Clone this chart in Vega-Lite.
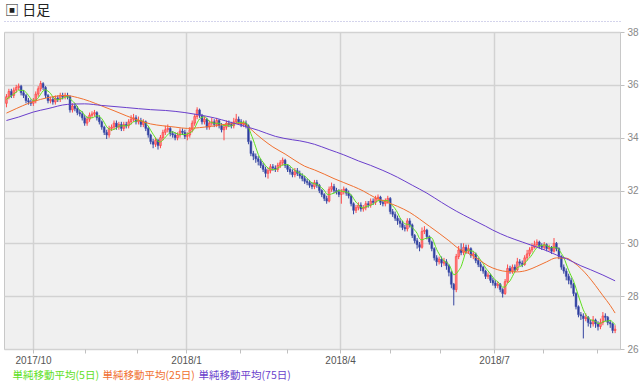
{
"$schema":"https://vega.github.io/schema/vega-lite/v6.json",
"width":616,"height":317,
"autosize":{"type":"none"},
"padding":{"left":4,"top":32,"right":20,"bottom":35},
"background":"white",
"title":{"text":"▣ 日足","anchor":"start","frame":"group","offset":3,"dx":1,"fontSize":14,"font":"Noto Sans CJK JP","fontWeight":"normal","color":"#222222"},
"config":{"view":{"fill":"#f0f0f0","stroke":"#c8c8c8","strokeWidth":1}},
"datasets":{
"candles":[
{"i":1,"o":35.30,"h":35.65,"l":35.15,"c":35.55},{"i":2,"o":35.55,"h":35.85,"l":35.45,"c":35.75},{"i":3,"o":35.75,"h":35.85,"l":35.50,"c":35.60},{"i":4,"o":35.60,"h":35.90,"l":35.50,"c":35.80},{"i":5,"o":35.80,"h":36.00,"l":35.70,"c":35.90},
{"i":6,"o":35.90,"h":36.05,"l":35.80,"c":35.95},{"i":7,"o":35.95,"h":36.00,"l":35.60,"c":35.70},{"i":8,"o":35.70,"h":35.80,"l":35.50,"c":35.60},{"i":9,"o":35.60,"h":35.65,"l":35.30,"c":35.40},{"i":10,"o":35.40,"h":35.50,"l":35.25,"c":35.35},
{"i":11,"o":35.35,"h":35.45,"l":35.20,"c":35.30},{"i":12,"o":35.30,"h":35.50,"l":35.20,"c":35.40},{"i":13,"o":35.40,"h":35.75,"l":35.30,"c":35.65},{"i":14,"o":35.65,"h":35.95,"l":35.55,"c":35.85},{"i":15,"o":35.85,"h":36.15,"l":35.75,"c":36.05},
{"i":16,"o":36.05,"h":36.10,"l":35.80,"c":35.90},{"i":17,"o":35.90,"h":35.95,"l":35.50,"c":35.60},{"i":18,"o":35.60,"h":35.65,"l":35.30,"c":35.40},{"i":19,"o":35.40,"h":35.55,"l":35.30,"c":35.45},{"i":20,"o":35.45,"h":35.55,"l":35.25,"c":35.35},
{"i":21,"o":35.35,"h":35.60,"l":35.25,"c":35.50},{"i":22,"o":35.50,"h":35.60,"l":35.35,"c":35.45},{"i":23,"o":35.45,"h":35.70,"l":35.35,"c":35.60},{"i":24,"o":35.60,"h":35.70,"l":35.45,"c":35.55},{"i":25,"o":35.55,"h":35.70,"l":35.45,"c":35.60},
{"i":26,"o":35.60,"h":35.70,"l":35.45,"c":35.55},{"i":27,"o":35.55,"h":35.60,"l":34.95,"c":35.05},{"i":28,"o":35.05,"h":35.30,"l":34.95,"c":35.20},{"i":29,"o":35.20,"h":35.30,"l":35.00,"c":35.10},{"i":30,"o":35.10,"h":35.20,"l":34.85,"c":34.95},
{"i":31,"o":34.95,"h":35.05,"l":34.80,"c":34.90},{"i":32,"o":34.90,"h":35.00,"l":34.65,"c":34.75},{"i":33,"o":34.75,"h":34.85,"l":34.45,"c":34.55},{"i":34,"o":34.55,"h":34.80,"l":34.45,"c":34.70},{"i":35,"o":34.70,"h":34.95,"l":34.60,"c":34.85},
{"i":36,"o":34.85,"h":35.00,"l":34.75,"c":34.90},{"i":37,"o":34.90,"h":35.05,"l":34.80,"c":34.95},{"i":38,"o":34.95,"h":35.00,"l":34.65,"c":34.75},{"i":39,"o":34.75,"h":34.85,"l":34.50,"c":34.60},{"i":40,"o":34.60,"h":34.65,"l":34.30,"c":34.40},
{"i":41,"o":34.40,"h":34.45,"l":34.10,"c":34.20},{"i":42,"o":34.20,"h":34.30,"l":33.95,"c":34.10},{"i":43,"o":34.10,"h":34.45,"l":34.00,"c":34.35},{"i":44,"o":34.35,"h":34.50,"l":34.25,"c":34.40},{"i":45,"o":34.40,"h":34.65,"l":34.30,"c":34.55},
{"i":46,"o":34.55,"h":34.65,"l":34.30,"c":34.40},{"i":47,"o":34.40,"h":34.60,"l":34.30,"c":34.50},{"i":48,"o":34.50,"h":34.60,"l":34.25,"c":34.35},{"i":49,"o":34.35,"h":34.60,"l":34.25,"c":34.50},{"i":50,"o":34.50,"h":34.60,"l":34.35,"c":34.45},
{"i":51,"o":34.45,"h":34.70,"l":34.35,"c":34.60},{"i":52,"o":34.60,"h":34.85,"l":34.50,"c":34.70},{"i":53,"o":34.70,"h":34.90,"l":34.60,"c":34.75},{"i":54,"o":34.75,"h":34.85,"l":34.50,"c":34.60},{"i":55,"o":34.60,"h":34.80,"l":34.50,"c":34.65},
{"i":56,"o":34.65,"h":34.75,"l":34.40,"c":34.50},{"i":57,"o":34.50,"h":34.70,"l":34.40,"c":34.60},{"i":58,"o":34.60,"h":34.65,"l":34.25,"c":34.35},{"i":59,"o":34.35,"h":34.40,"l":34.00,"c":34.10},{"i":60,"o":34.10,"h":34.15,"l":33.75,"c":33.85},
{"i":61,"o":33.85,"h":33.95,"l":33.60,"c":33.75},{"i":62,"o":33.75,"h":34.00,"l":33.65,"c":33.90},{"i":63,"o":33.90,"h":33.95,"l":33.55,"c":33.70},{"i":64,"o":33.70,"h":34.10,"l":33.60,"c":34.00},{"i":65,"o":34.00,"h":34.30,"l":33.90,"c":34.20},
{"i":66,"o":34.20,"h":34.45,"l":34.10,"c":34.30},{"i":67,"o":34.30,"h":34.50,"l":34.20,"c":34.35},{"i":68,"o":34.35,"h":34.40,"l":34.05,"c":34.15},{"i":69,"o":34.15,"h":34.25,"l":34.00,"c":34.10},{"i":70,"o":34.10,"h":34.20,"l":33.90,"c":34.00},
{"i":71,"o":34.00,"h":34.20,"l":33.90,"c":34.10},{"i":72,"o":34.10,"h":34.35,"l":34.00,"c":34.25},{"i":73,"o":34.25,"h":34.35,"l":34.10,"c":34.20},{"i":74,"o":34.20,"h":34.30,"l":33.95,"c":34.05},{"i":75,"o":34.05,"h":34.20,"l":33.90,"c":34.10},
{"i":76,"o":34.10,"h":34.40,"l":34.00,"c":34.30},{"i":77,"o":34.30,"h":34.65,"l":34.20,"c":34.55},{"i":78,"o":34.55,"h":34.90,"l":34.45,"c":34.80},{"i":79,"o":34.80,"h":35.15,"l":34.70,"c":35.05},{"i":80,"o":35.05,"h":35.10,"l":34.75,"c":34.85},
{"i":81,"o":34.85,"h":34.90,"l":34.50,"c":34.60},{"i":82,"o":34.60,"h":34.80,"l":34.50,"c":34.70},{"i":83,"o":34.70,"h":34.75,"l":34.30,"c":34.40},{"i":84,"o":34.40,"h":34.65,"l":34.30,"c":34.55},{"i":85,"o":34.55,"h":34.75,"l":34.45,"c":34.60},
{"i":86,"o":34.60,"h":34.70,"l":34.40,"c":34.50},{"i":87,"o":34.50,"h":34.75,"l":34.40,"c":34.65},{"i":88,"o":34.65,"h":34.70,"l":34.35,"c":34.45},{"i":89,"o":34.45,"h":34.55,"l":34.20,"c":34.30},{"i":90,"o":34.30,"h":34.50,"l":33.90,"c":34.40},
{"i":91,"o":34.40,"h":34.65,"l":34.30,"c":34.55},{"i":92,"o":34.55,"h":34.65,"l":34.40,"c":34.50},{"i":93,"o":34.50,"h":34.60,"l":34.35,"c":34.45},{"i":94,"o":34.45,"h":34.75,"l":34.35,"c":34.60},{"i":95,"o":34.60,"h":34.90,"l":34.55,"c":34.70},
{"i":96,"o":34.70,"h":34.80,"l":34.50,"c":34.60},{"i":97,"o":34.60,"h":34.70,"l":34.40,"c":34.50},{"i":98,"o":34.50,"h":34.65,"l":34.40,"c":34.55},{"i":99,"o":34.55,"h":34.65,"l":34.35,"c":34.45},{"i":100,"o":34.45,"h":34.50,"l":33.75,"c":33.85},
{"i":101,"o":33.85,"h":33.90,"l":33.30,"c":33.40},{"i":102,"o":33.40,"h":33.50,"l":33.15,"c":33.30},{"i":103,"o":33.30,"h":33.40,"l":33.05,"c":33.20},{"i":104,"o":33.20,"h":33.30,"l":32.95,"c":33.10},{"i":105,"o":33.10,"h":33.20,"l":32.85,"c":32.95},
{"i":106,"o":32.95,"h":33.05,"l":32.70,"c":32.80},{"i":107,"o":32.80,"h":32.90,"l":32.50,"c":32.65},{"i":108,"o":32.65,"h":32.85,"l":32.45,"c":32.75},{"i":109,"o":32.75,"h":33.00,"l":32.65,"c":32.90},{"i":110,"o":32.90,"h":33.00,"l":32.75,"c":32.85},
{"i":111,"o":32.85,"h":32.95,"l":32.70,"c":32.80},{"i":112,"o":32.80,"h":33.05,"l":32.70,"c":32.95},{"i":113,"o":32.95,"h":33.15,"l":32.85,"c":33.05},{"i":114,"o":33.05,"h":33.25,"l":32.95,"c":33.15},{"i":115,"o":33.15,"h":33.20,"l":32.85,"c":32.95},
{"i":116,"o":32.95,"h":33.00,"l":32.70,"c":32.80},{"i":117,"o":32.80,"h":32.90,"l":32.60,"c":32.70},{"i":118,"o":32.70,"h":32.80,"l":32.50,"c":32.60},{"i":119,"o":32.60,"h":32.85,"l":32.50,"c":32.75},{"i":120,"o":32.75,"h":32.85,"l":32.55,"c":32.65},
{"i":121,"o":32.65,"h":32.75,"l":32.45,"c":32.55},{"i":122,"o":32.55,"h":32.65,"l":32.35,"c":32.45},{"i":123,"o":32.45,"h":32.55,"l":32.25,"c":32.35},{"i":124,"o":32.35,"h":32.45,"l":32.20,"c":32.30},{"i":125,"o":32.30,"h":32.40,"l":32.10,"c":32.20},
{"i":126,"o":32.20,"h":32.30,"l":32.05,"c":32.15},{"i":127,"o":32.15,"h":32.40,"l":32.05,"c":32.30},{"i":128,"o":32.30,"h":32.40,"l":32.10,"c":32.20},{"i":129,"o":32.20,"h":32.25,"l":31.90,"c":32.00},{"i":130,"o":32.00,"h":32.05,"l":31.75,"c":31.85},
{"i":131,"o":31.85,"h":31.90,"l":31.60,"c":31.70},{"i":132,"o":31.70,"h":31.80,"l":31.50,"c":31.60},{"i":133,"o":31.60,"h":32.15,"l":31.55,"c":32.05},{"i":134,"o":32.05,"h":32.30,"l":31.95,"c":32.15},{"i":135,"o":32.15,"h":32.25,"l":31.90,"c":32.00},
{"i":136,"o":32.00,"h":32.10,"l":31.85,"c":31.95},{"i":137,"o":31.95,"h":32.05,"l":31.75,"c":31.85},{"i":138,"o":31.85,"h":32.05,"l":31.50,"c":31.95},{"i":139,"o":31.95,"h":32.15,"l":31.85,"c":32.05},{"i":140,"o":32.05,"h":32.10,"l":31.80,"c":31.90},
{"i":141,"o":31.90,"h":32.00,"l":31.70,"c":31.80},{"i":142,"o":31.80,"h":31.85,"l":31.40,"c":31.50},{"i":143,"o":31.50,"h":31.55,"l":31.10,"c":31.25},{"i":144,"o":31.25,"h":31.45,"l":31.15,"c":31.35},{"i":145,"o":31.35,"h":31.55,"l":31.25,"c":31.45},
{"i":146,"o":31.45,"h":31.55,"l":31.20,"c":31.30},{"i":147,"o":31.30,"h":31.45,"l":31.20,"c":31.35},{"i":148,"o":31.35,"h":31.60,"l":31.25,"c":31.50},{"i":149,"o":31.50,"h":31.60,"l":31.35,"c":31.45},{"i":150,"o":31.45,"h":31.70,"l":31.35,"c":31.60},
{"i":151,"o":31.60,"h":31.70,"l":31.45,"c":31.55},{"i":152,"o":31.55,"h":31.80,"l":31.45,"c":31.70},{"i":153,"o":31.70,"h":31.85,"l":31.60,"c":31.75},{"i":154,"o":31.75,"h":31.80,"l":31.45,"c":31.55},{"i":155,"o":31.55,"h":31.65,"l":31.40,"c":31.50},
{"i":156,"o":31.50,"h":31.70,"l":31.40,"c":31.60},{"i":157,"o":31.60,"h":31.80,"l":31.50,"c":31.70},{"i":158,"o":31.70,"h":31.75,"l":31.10,"c":31.20},{"i":159,"o":31.20,"h":31.30,"l":31.00,"c":31.10},{"i":160,"o":31.10,"h":31.20,"l":30.85,"c":30.95},
{"i":161,"o":30.95,"h":31.05,"l":30.70,"c":30.85},{"i":162,"o":30.85,"h":30.95,"l":30.60,"c":30.75},{"i":163,"o":30.75,"h":30.85,"l":30.50,"c":30.60},{"i":164,"o":30.60,"h":30.70,"l":30.45,"c":30.55},{"i":165,"o":30.55,"h":30.95,"l":30.45,"c":30.85},
{"i":166,"o":30.85,"h":30.95,"l":30.60,"c":30.70},{"i":167,"o":30.70,"h":30.75,"l":30.20,"c":30.30},{"i":168,"o":30.30,"h":30.35,"l":30.00,"c":30.10},{"i":169,"o":30.10,"h":30.20,"l":29.80,"c":29.95},{"i":170,"o":29.95,"h":30.05,"l":29.70,"c":29.85},
{"i":171,"o":29.85,"h":30.60,"l":29.80,"c":30.45},{"i":172,"o":30.45,"h":30.65,"l":30.35,"c":30.50},{"i":173,"o":30.50,"h":30.55,"l":30.15,"c":30.25},{"i":174,"o":30.25,"h":30.30,"l":29.95,"c":30.05},{"i":175,"o":30.05,"h":30.10,"l":29.70,"c":29.80},
{"i":176,"o":29.80,"h":29.85,"l":29.35,"c":29.45},{"i":177,"o":29.45,"h":29.55,"l":29.15,"c":29.30},{"i":178,"o":29.30,"h":29.50,"l":29.20,"c":29.40},{"i":179,"o":29.40,"h":29.50,"l":29.10,"c":29.25},{"i":180,"o":29.25,"h":29.45,"l":29.15,"c":29.30},
{"i":181,"o":29.30,"h":29.40,"l":29.00,"c":29.15},{"i":182,"o":29.15,"h":29.20,"l":28.75,"c":28.90},{"i":183,"o":28.90,"h":28.95,"l":28.30,"c":28.45},{"i":184,"o":28.45,"h":28.50,"l":27.65,"c":28.25},{"i":185,"o":28.25,"h":29.60,"l":28.15,"c":29.50},
{"i":186,"o":29.50,"h":29.90,"l":29.40,"c":29.75},{"i":187,"o":29.75,"h":30.00,"l":29.55,"c":29.65},{"i":188,"o":29.65,"h":30.00,"l":29.55,"c":29.85},{"i":189,"o":29.85,"h":29.95,"l":29.60,"c":29.70},{"i":190,"o":29.70,"h":29.95,"l":29.60,"c":29.80},
{"i":191,"o":29.80,"h":29.85,"l":29.45,"c":29.55},{"i":192,"o":29.55,"h":29.70,"l":29.40,"c":29.60},{"i":193,"o":29.60,"h":29.65,"l":29.25,"c":29.35},{"i":194,"o":29.35,"h":29.45,"l":29.10,"c":29.20},{"i":195,"o":29.20,"h":29.30,"l":28.95,"c":29.10},
{"i":196,"o":29.10,"h":29.15,"l":28.85,"c":28.95},{"i":197,"o":28.95,"h":29.00,"l":28.65,"c":28.75},{"i":198,"o":28.75,"h":28.90,"l":28.65,"c":28.80},{"i":199,"o":28.80,"h":28.85,"l":28.50,"c":28.60},{"i":200,"o":28.60,"h":28.70,"l":28.40,"c":28.50},
{"i":201,"o":28.50,"h":28.60,"l":28.30,"c":28.40},{"i":202,"o":28.40,"h":28.55,"l":28.30,"c":28.45},{"i":203,"o":28.45,"h":28.50,"l":28.15,"c":28.25},{"i":204,"o":28.25,"h":28.30,"l":27.95,"c":28.10},{"i":205,"o":28.10,"h":28.65,"l":28.05,"c":28.55},
{"i":206,"o":28.55,"h":29.20,"l":28.50,"c":29.05},{"i":207,"o":29.05,"h":29.15,"l":28.85,"c":28.95},{"i":208,"o":28.95,"h":29.20,"l":28.85,"c":29.10},{"i":209,"o":29.10,"h":29.20,"l":28.90,"c":29.00},{"i":210,"o":29.00,"h":29.45,"l":28.95,"c":29.30},
{"i":211,"o":29.30,"h":29.40,"l":29.15,"c":29.25},{"i":212,"o":29.25,"h":29.35,"l":29.10,"c":29.20},{"i":213,"o":29.20,"h":29.55,"l":29.15,"c":29.45},{"i":214,"o":29.45,"h":29.75,"l":29.35,"c":29.60},{"i":215,"o":29.60,"h":29.85,"l":29.50,"c":29.75},
{"i":216,"o":29.75,"h":30.00,"l":29.65,"c":29.85},{"i":217,"o":29.85,"h":30.10,"l":29.80,"c":29.95},{"i":218,"o":29.95,"h":30.15,"l":29.85,"c":30.05},{"i":219,"o":30.05,"h":30.10,"l":29.80,"c":29.90},{"i":220,"o":29.90,"h":30.00,"l":29.75,"c":29.85},
{"i":221,"o":29.85,"h":30.05,"l":29.75,"c":29.95},{"i":222,"o":29.95,"h":30.00,"l":29.70,"c":29.80},{"i":223,"o":29.80,"h":29.95,"l":29.70,"c":29.85},{"i":224,"o":29.85,"h":29.90,"l":29.60,"c":29.70},{"i":225,"o":29.70,"h":30.20,"l":29.65,"c":30.00},
{"i":226,"o":30.00,"h":30.05,"l":29.70,"c":29.80},{"i":227,"o":29.80,"h":29.85,"l":29.40,"c":29.50},{"i":228,"o":29.50,"h":29.55,"l":29.00,"c":29.10},{"i":229,"o":29.10,"h":29.20,"l":28.85,"c":28.95},{"i":230,"o":28.95,"h":29.05,"l":28.60,"c":28.75},
{"i":231,"o":28.75,"h":28.85,"l":28.45,"c":28.60},{"i":232,"o":28.60,"h":28.70,"l":28.30,"c":28.45},{"i":233,"o":28.45,"h":28.50,"l":28.00,"c":28.10},{"i":234,"o":28.10,"h":28.15,"l":27.50,"c":27.60},{"i":235,"o":27.60,"h":27.65,"l":27.20,"c":27.30},
{"i":236,"o":27.30,"h":27.40,"l":27.10,"c":27.25},{"i":237,"o":27.25,"h":27.35,"l":26.40,"c":27.15},{"i":238,"o":27.15,"h":27.35,"l":27.05,"c":27.20},{"i":239,"o":27.20,"h":27.25,"l":26.85,"c":27.00},{"i":240,"o":27.00,"h":27.10,"l":26.80,"c":26.95},
{"i":241,"o":26.95,"h":27.25,"l":26.85,"c":27.10},{"i":242,"o":27.10,"h":27.15,"l":26.80,"c":26.95},{"i":243,"o":26.95,"h":27.05,"l":26.70,"c":26.85},{"i":244,"o":26.85,"h":27.15,"l":26.75,"c":27.00},{"i":245,"o":27.00,"h":27.40,"l":26.90,"c":27.25},
{"i":246,"o":27.25,"h":27.35,"l":27.05,"c":27.20},{"i":247,"o":27.20,"h":27.25,"l":26.90,"c":27.00},{"i":248,"o":27.00,"h":27.10,"l":26.80,"c":26.95},{"i":249,"o":26.95,"h":27.00,"l":26.60,"c":26.70},{"i":250,"o":26.70,"h":26.90,"l":26.60,"c":26.75}
],
"ma":[
{"i":1,"s":"5日","v":35.45},{"i":2,"s":"5日","v":35.52},{"i":3,"s":"5日","v":35.58},{"i":4,"s":"5日","v":35.66},{"i":5,"s":"5日","v":35.72},{"i":6,"s":"5日","v":35.80},{"i":7,"s":"5日","v":35.79},{"i":8,"s":"5日","v":35.79},{"i":9,"s":"5日","v":35.71},{"i":10,"s":"5日","v":35.60},
{"i":11,"s":"5日","v":35.47},{"i":12,"s":"5日","v":35.41},{"i":13,"s":"5日","v":35.42},{"i":14,"s":"5日","v":35.51},{"i":15,"s":"5日","v":35.65},{"i":16,"s":"5日","v":35.77},{"i":17,"s":"5日","v":35.81},{"i":18,"s":"5日","v":35.76},{"i":19,"s":"5日","v":35.68},{"i":20,"s":"5日","v":35.54},
{"i":21,"s":"5日","v":35.46},{"i":22,"s":"5日","v":35.43},{"i":23,"s":"5日","v":35.47},{"i":24,"s":"5日","v":35.49},{"i":25,"s":"5日","v":35.54},{"i":26,"s":"5日","v":35.55},{"i":27,"s":"5日","v":35.47},{"i":28,"s":"5日","v":35.39},{"i":29,"s":"5日","v":35.30},{"i":30,"s":"5日","v":35.17},
{"i":31,"s":"5日","v":35.04},{"i":32,"s":"5日","v":34.98},{"i":33,"s":"5日","v":34.85},{"i":34,"s":"5日","v":34.77},{"i":35,"s":"5日","v":34.75},{"i":36,"s":"5日","v":34.75},{"i":37,"s":"5日","v":34.79},{"i":38,"s":"5日","v":34.83},{"i":39,"s":"5日","v":34.81},{"i":40,"s":"5日","v":34.72},
{"i":41,"s":"5日","v":34.58},{"i":42,"s":"5日","v":34.41},{"i":43,"s":"5日","v":34.33},{"i":44,"s":"5日","v":34.29},{"i":45,"s":"5日","v":34.32},{"i":46,"s":"5日","v":34.36},{"i":47,"s":"5日","v":34.44},{"i":48,"s":"5日","v":34.44},{"i":49,"s":"5日","v":34.46},{"i":50,"s":"5日","v":34.44},
{"i":51,"s":"5日","v":34.48},{"i":52,"s":"5日","v":34.52},{"i":53,"s":"5日","v":34.60},{"i":54,"s":"5日","v":34.62},{"i":55,"s":"5日","v":34.66},{"i":56,"s":"5日","v":34.64},{"i":57,"s":"5日","v":34.62},{"i":58,"s":"5日","v":34.54},{"i":59,"s":"5日","v":34.44},{"i":60,"s":"5日","v":34.28},
{"i":61,"s":"5日","v":34.13},{"i":62,"s":"5日","v":33.99},{"i":63,"s":"5日","v":33.86},{"i":64,"s":"5日","v":33.84},{"i":65,"s":"5日","v":33.91},{"i":66,"s":"5日","v":34.02},{"i":67,"s":"5日","v":34.11},{"i":68,"s":"5日","v":34.20},{"i":69,"s":"5日","v":34.22},{"i":70,"s":"5日","v":34.18},
{"i":71,"s":"5日","v":34.14},{"i":72,"s":"5日","v":34.12},{"i":73,"s":"5日","v":34.13},{"i":74,"s":"5日","v":34.12},{"i":75,"s":"5日","v":34.14},{"i":76,"s":"5日","v":34.18},{"i":77,"s":"5日","v":34.24},{"i":78,"s":"5日","v":34.36},{"i":79,"s":"5日","v":34.56},{"i":80,"s":"5日","v":34.71},
{"i":81,"s":"5日","v":34.77},{"i":82,"s":"5日","v":34.80},{"i":83,"s":"5日","v":34.72},{"i":84,"s":"5日","v":34.62},{"i":85,"s":"5日","v":34.57},{"i":86,"s":"5日","v":34.55},{"i":87,"s":"5日","v":34.54},{"i":88,"s":"5日","v":34.55},{"i":89,"s":"5日","v":34.50},{"i":90,"s":"5日","v":34.46},
{"i":91,"s":"5日","v":34.47},{"i":92,"s":"5日","v":34.44},{"i":93,"s":"5日","v":34.44},{"i":94,"s":"5日","v":34.50},{"i":95,"s":"5日","v":34.56},{"i":96,"s":"5日","v":34.57},{"i":97,"s":"5日","v":34.57},{"i":98,"s":"5日","v":34.59},{"i":99,"s":"5日","v":34.56},{"i":100,"s":"5日","v":34.39},
{"i":101,"s":"5日","v":34.15},{"i":102,"s":"5日","v":33.91},{"i":103,"s":"5日","v":33.64},{"i":104,"s":"5日","v":33.37},{"i":105,"s":"5日","v":33.19},{"i":106,"s":"5日","v":33.07},{"i":107,"s":"5日","v":32.94},{"i":108,"s":"5日","v":32.85},{"i":109,"s":"5日","v":32.81},{"i":110,"s":"5日","v":32.79},
{"i":111,"s":"5日","v":32.79},{"i":112,"s":"5日","v":32.85},{"i":113,"s":"5日","v":32.91},{"i":114,"s":"5日","v":32.96},{"i":115,"s":"5日","v":32.98},{"i":116,"s":"5日","v":32.98},{"i":117,"s":"5日","v":32.93},{"i":118,"s":"5日","v":32.84},{"i":119,"s":"5日","v":32.76},{"i":120,"s":"5日","v":32.70},
{"i":121,"s":"5日","v":32.65},{"i":122,"s":"5日","v":32.60},{"i":123,"s":"5日","v":32.55},{"i":124,"s":"5日","v":32.46},{"i":125,"s":"5日","v":32.37},{"i":126,"s":"5日","v":32.29},{"i":127,"s":"5日","v":32.26},{"i":128,"s":"5日","v":32.23},{"i":129,"s":"5日","v":32.17},{"i":130,"s":"5日","v":32.10},
{"i":131,"s":"5日","v":32.01},{"i":132,"s":"5日","v":31.87},{"i":133,"s":"5日","v":31.84},{"i":134,"s":"5日","v":31.87},{"i":135,"s":"5日","v":31.90},{"i":136,"s":"5日","v":31.95},{"i":137,"s":"5日","v":32.00},{"i":138,"s":"5日","v":31.98},{"i":139,"s":"5日","v":31.96},{"i":140,"s":"5日","v":31.94},
{"i":141,"s":"5日","v":31.91},{"i":142,"s":"5日","v":31.84},{"i":143,"s":"5日","v":31.70},{"i":144,"s":"5日","v":31.56},{"i":145,"s":"5日","v":31.47},{"i":146,"s":"5日","v":31.37},{"i":147,"s":"5日","v":31.34},{"i":148,"s":"5日","v":31.39},{"i":149,"s":"5日","v":31.41},{"i":150,"s":"5日","v":31.44},
{"i":151,"s":"5日","v":31.49},{"i":152,"s":"5日","v":31.56},{"i":153,"s":"5日","v":31.61},{"i":154,"s":"5日","v":31.63},{"i":155,"s":"5日","v":31.61},{"i":156,"s":"5日","v":31.62},{"i":157,"s":"5日","v":31.62},{"i":158,"s":"5日","v":31.51},{"i":159,"s":"5日","v":31.42},{"i":160,"s":"5日","v":31.31},
{"i":161,"s":"5日","v":31.16},{"i":162,"s":"5日","v":30.97},{"i":163,"s":"5日","v":30.85},{"i":164,"s":"5日","v":30.74},{"i":165,"s":"5日","v":30.72},{"i":166,"s":"5日","v":30.69},{"i":167,"s":"5日","v":30.60},{"i":168,"s":"5日","v":30.50},{"i":169,"s":"5日","v":30.38},{"i":170,"s":"5日","v":30.18},
{"i":171,"s":"5日","v":30.13},{"i":172,"s":"5日","v":30.17},{"i":173,"s":"5日","v":30.20},{"i":174,"s":"5日","v":30.22},{"i":175,"s":"5日","v":30.21},{"i":176,"s":"5日","v":30.01},{"i":177,"s":"5日","v":29.77},{"i":178,"s":"5日","v":29.60},{"i":179,"s":"5日","v":29.44},{"i":180,"s":"5日","v":29.34},
{"i":181,"s":"5日","v":29.28},{"i":182,"s":"5日","v":29.20},{"i":183,"s":"5日","v":29.01},{"i":184,"s":"5日","v":28.81},{"i":185,"s":"5日","v":28.85},{"i":186,"s":"5日","v":28.97},{"i":187,"s":"5日","v":29.12},{"i":188,"s":"5日","v":29.40},{"i":189,"s":"5日","v":29.69},{"i":190,"s":"5日","v":29.75},
{"i":191,"s":"5日","v":29.71},{"i":192,"s":"5日","v":29.70},{"i":193,"s":"5日","v":29.60},{"i":194,"s":"5日","v":29.50},{"i":195,"s":"5日","v":29.36},{"i":196,"s":"5日","v":29.24},{"i":197,"s":"5日","v":29.07},{"i":198,"s":"5日","v":28.96},{"i":199,"s":"5日","v":28.84},{"i":200,"s":"5日","v":28.72},
{"i":201,"s":"5日","v":28.61},{"i":202,"s":"5日","v":28.55},{"i":203,"s":"5日","v":28.44},{"i":204,"s":"5日","v":28.34},{"i":205,"s":"5日","v":28.35},{"i":206,"s":"5日","v":28.48},{"i":207,"s":"5日","v":28.58},{"i":208,"s":"5日","v":28.75},{"i":209,"s":"5日","v":28.93},{"i":210,"s":"5日","v":29.08},
{"i":211,"s":"5日","v":29.12},{"i":212,"s":"5日","v":29.17},{"i":213,"s":"5日","v":29.24},{"i":214,"s":"5日","v":29.36},{"i":215,"s":"5日","v":29.45},{"i":216,"s":"5日","v":29.57},{"i":217,"s":"5日","v":29.72},{"i":218,"s":"5日","v":29.84},{"i":219,"s":"5日","v":29.90},{"i":220,"s":"5日","v":29.92},
{"i":221,"s":"5日","v":29.94},{"i":222,"s":"5日","v":29.91},{"i":223,"s":"5日","v":29.87},{"i":224,"s":"5日","v":29.83},{"i":225,"s":"5日","v":29.86},{"i":226,"s":"5日","v":29.83},{"i":227,"s":"5日","v":29.77},{"i":228,"s":"5日","v":29.62},{"i":229,"s":"5日","v":29.47},{"i":230,"s":"5日","v":29.22},
{"i":231,"s":"5日","v":28.98},{"i":232,"s":"5日","v":28.77},{"i":233,"s":"5日","v":28.57},{"i":234,"s":"5日","v":28.30},{"i":235,"s":"5日","v":28.01},{"i":236,"s":"5日","v":27.74},{"i":237,"s":"5日","v":27.48},{"i":238,"s":"5日","v":27.30},{"i":239,"s":"5日","v":27.18},{"i":240,"s":"5日","v":27.11},
{"i":241,"s":"5日","v":27.08},{"i":242,"s":"5日","v":27.04},{"i":243,"s":"5日","v":26.97},{"i":244,"s":"5日","v":26.97},{"i":245,"s":"5日","v":27.03},{"i":246,"s":"5日","v":27.05},{"i":247,"s":"5日","v":27.06},{"i":248,"s":"5日","v":27.08},{"i":249,"s":"5日","v":27.02},{"i":250,"s":"5日","v":26.92},
{"i":1,"s":"25日","v":34.93},{"i":5,"s":"25日","v":35.10},{"i":10,"s":"25日","v":35.30},{"i":15,"s":"25日","v":35.45},{"i":20,"s":"25日","v":35.55},{"i":25,"s":"25日","v":35.60},{"i":30,"s":"25日","v":35.52},{"i":35,"s":"25日","v":35.38},{"i":40,"s":"25日","v":35.20},{"i":45,"s":"25日","v":35.02},
{"i":50,"s":"25日","v":34.83},{"i":55,"s":"25日","v":34.66},{"i":60,"s":"25日","v":34.52},{"i":65,"s":"25日","v":34.45},{"i":70,"s":"25日","v":34.40},{"i":75,"s":"25日","v":34.35},{"i":80,"s":"25日","v":34.38},{"i":85,"s":"25日","v":34.43},{"i":90,"s":"25日","v":34.50},{"i":95,"s":"25日","v":34.54},
{"i":98,"s":"25日","v":34.54},{"i":100,"s":"25日","v":34.40},{"i":103,"s":"25日","v":34.15},{"i":106,"s":"25日","v":33.92},{"i":110,"s":"25日","v":33.65},{"i":115,"s":"25日","v":33.38},{"i":119,"s":"25日","v":33.14},{"i":123,"s":"25日","v":32.92},{"i":127,"s":"25日","v":32.78},{"i":131,"s":"25日","v":32.62},
{"i":135,"s":"25日","v":32.45},{"i":139,"s":"25日","v":32.30},{"i":143,"s":"25日","v":32.15},{"i":147,"s":"25日","v":31.98},{"i":152,"s":"25日","v":31.72},{"i":156,"s":"25日","v":31.58},{"i":161,"s":"25日","v":31.40},{"i":166,"s":"25日","v":31.17},{"i":170,"s":"25日","v":30.92},{"i":174,"s":"25日","v":30.65},
{"i":178,"s":"25日","v":30.38},{"i":182,"s":"25日","v":30.10},{"i":186,"s":"25日","v":29.80},{"i":190,"s":"25日","v":29.62},{"i":194,"s":"25日","v":29.40},{"i":198,"s":"25日","v":29.15},{"i":202,"s":"25日","v":29.00},{"i":206,"s":"25日","v":28.93},{"i":210,"s":"25日","v":28.92},{"i":214,"s":"25日","v":28.98},
{"i":218,"s":"25日","v":29.13},{"i":222,"s":"25日","v":29.30},{"i":226,"s":"25日","v":29.45},{"i":230,"s":"25日","v":29.44},{"i":233,"s":"25日","v":29.28},{"i":236,"s":"25日","v":29.05},{"i":239,"s":"25日","v":28.75},{"i":242,"s":"25日","v":28.40},{"i":245,"s":"25日","v":28.02},{"i":248,"s":"25日","v":27.65},{"i":250,"s":"25日","v":27.36},
{"i":1,"s":"75日","v":34.65},{"i":6,"s":"75日","v":34.78},{"i":12,"s":"75日","v":34.97},{"i":18,"s":"75日","v":35.10},{"i":26,"s":"75日","v":35.26},{"i":33,"s":"75日","v":35.28},{"i":40,"s":"75日","v":35.22},{"i":50,"s":"75日","v":35.14},{"i":60,"s":"75日","v":35.06},{"i":66,"s":"75日","v":35.03},
{"i":74,"s":"75日","v":34.95},{"i":80,"s":"75日","v":34.86},{"i":86,"s":"75日","v":34.75},{"i":92,"s":"75日","v":34.60},{"i":97,"s":"75日","v":34.47},{"i":104,"s":"75日","v":34.28},{"i":111,"s":"75日","v":34.05},{"i":118,"s":"75日","v":33.92},{"i":121,"s":"75日","v":33.88},{"i":127,"s":"75日","v":33.75},
{"i":133,"s":"75日","v":33.55},{"i":139,"s":"75日","v":33.35},{"i":145,"s":"75日","v":33.12},{"i":150,"s":"75日","v":32.95},{"i":155,"s":"75日","v":32.76},{"i":161,"s":"75日","v":32.50},{"i":167,"s":"75日","v":32.20},{"i":173,"s":"75日","v":31.90},{"i":179,"s":"75日","v":31.55},{"i":185,"s":"75日","v":31.22},
{"i":191,"s":"75日","v":30.93},{"i":197,"s":"75日","v":30.65},{"i":200,"s":"75日","v":30.50},{"i":206,"s":"75日","v":30.25},{"i":212,"s":"75日","v":30.05},{"i":216,"s":"75日","v":29.92},{"i":222,"s":"75日","v":29.72},{"i":226,"s":"75日","v":29.56},{"i":230,"s":"75日","v":29.42},{"i":236,"s":"75日","v":29.15},
{"i":240,"s":"75日","v":29.00},{"i":245,"s":"75日","v":28.80},{"i":250,"s":"75日","v":28.58}
]
},
"layer":[
{"data":{"name":"candles"},
 "mark":{"type":"rule","strokeWidth":1},
 "encoding":{
  "x":{"field":"i","type":"quantitative","title":null,"scale":{"domain":[0,252],"nice":false,"zero":false,"padding":0},
   "axis":{"orient":"bottom","values":[11.9,33.1,54.4,74.5,96.6,115.8,137.5,157.9,178.5,200.5,220.5,242.6],
    "labelExpr":"datum.value==11.9?'2017/10':datum.value==74.5?'2018/1':datum.value==137.5?'2018/4':datum.value==200.5?'2018/7':''",
    "grid":true,"gridWidth":1.5,
    "gridColor":{"condition":{"test":"datum.value==11.9||datum.value==74.5||datum.value==137.5||datum.value==200.5","value":"#d2d2d2"},"value":"transparent"},
    "tickSize":4,
    "tickColor":"#c0c0c0","domain":false,"labelColor":"#555555","labelFontSize":10,"labelFont":"Liberation Sans","labelPadding":2,"labelFlush":false,"labelOverlap":false}},
  "y":{"field":"l","type":"quantitative","title":null,"scale":{"domain":[26,38],"nice":false,"zero":false},
   "axis":{"orient":"right","values":[26,28,30,32,34,36,38],"grid":true,"gridColor":"#d2d2d2","gridWidth":1.5,"tickSize":4,"tickColor":"#c0c0c0","domain":false,"labelColor":"#888888","labelFontSize":10,"labelFont":"Liberation Sans","labelPadding":3}},
  "y2":{"field":"h"},
  "color":{"condition":{"test":"datum.c >= datum.o","value":"#ff4a4a"},"value":"#34449f"}
 }},
{"data":{"name":"candles"},
 "mark":{"type":"bar","width":1.8,"strokeWidth":0.6},
 "encoding":{
  "x":{"field":"i","type":"quantitative","axis":null},
  "y":{"field":"o","type":"quantitative","axis":null},
  "y2":{"field":"c"},
  "fill":{"condition":{"test":"datum.c >= datum.o","value":"#ff8080"},"value":"#2a3a98"},
  "stroke":{"condition":{"test":"datum.c >= datum.o","value":"#ff3c3c"},"value":"#4858b4"}
 }},
{"data":{"name":"ma"},
 "mark":{"type":"line","strokeWidth":1,"interpolate":"monotone"},
 "encoding":{
  "x":{"field":"i","type":"quantitative","axis":{"orient":"top","offset":11,"domain":true,"domainColor":"#a8a8d8","domainDash":[1,2],"domainWidth":1,"ticks":false,"labels":false,"grid":false,"title":null}},
  "y":{"field":"v","type":"quantitative","axis":null},
  "color":{"field":"s","type":"nominal","scale":{"domain":["5日","25日","75日"],"range":["#5ee01e","#f07030","#6a3fcc"]},
   "legend":{"orient":"none","legendX":8,"legendY":339,"direction":"horizontal","title":null,"symbolSize":1,"symbolStrokeWidth":0,"symbolOpacity":0,"labelOffset":-10,"columnPadding":3,"labelFont":"Noto Sans CJK JP","labelFontSize":10.5,
    "labelExpr":"'単純移動平均(' + datum.label + ')'",
    "encode":{"labels":{"update":{"fill":{"scale":"color","field":"value"}}}}}}
 }}
],
"resolve":{"axis":{"x":"independent","y":"independent"}}
}
